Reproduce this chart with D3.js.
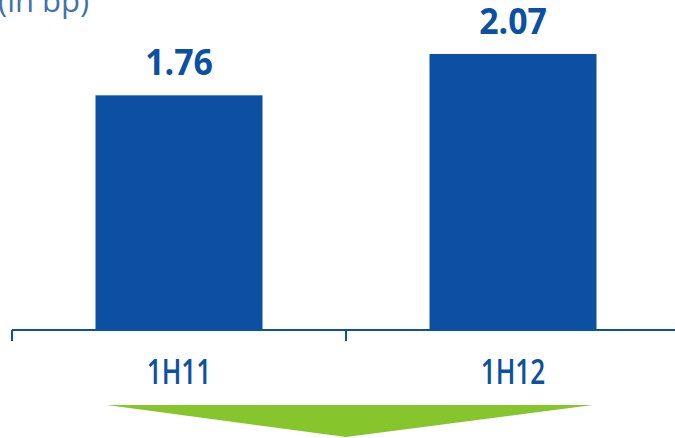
<!DOCTYPE html>
<html><head><meta charset="utf-8">
<script src="https://cdn.jsdelivr.net/npm/d3@7"></script>
<style>html,body{margin:0;padding:0;background:#fff;overflow:hidden}</style>
</head><body>
<svg id="c" width="675" height="438"></svg>
<script>
const categories = ["1H11", "1H12"];
const values = [1.76, 2.07];
const valueLabels = ["1.76", "2.07"];
const unitLabel = "(in bp)";

const svg = d3.select("#c");
const W = 675, H = 438;
const blue = "#0b50a2";
const x = d3.scaleBand().domain(categories).range([12, 680]).paddingInner(0.5).paddingOuter(0.25);
const y = d3.scaleLinear().domain([0, 2.07]).range([330, 54]);

svg.append("text").attr("x", -2).attr("y", 12).attr("fill", "#3f72ad")
  .attr("font-family", "Open Sans").attr("font-size", 31).text(unitLabel);

svg.selectAll("rect.bar").data(values).join("rect").attr("class", "bar")
  .attr("x", (d, i) => x(categories[i])).attr("width", x.bandwidth())
  .attr("y", d => y(d)).attr("height", d => y(0) - y(d)).attr("fill", blue);

svg.selectAll("text.val").data(values).join("text").attr("class", "val")
  .attr("x", (d, i) => x(categories[i]) + x.bandwidth() / 2)
  .attr("y", d => y(d) - 20).attr("text-anchor", "middle")
  .attr("font-family", "Open Sans").attr("font-weight", 700).attr("font-size", 36)
  .attr("fill", blue).text((d, i) => valueLabels[i])
  .each(function () { this.setAttribute("textLength", this.getComputedTextLength() * 0.94); this.setAttribute("lengthAdjust", "spacingAndGlyphs"); });

// axis
const step = x.step();
const ax = svg.append("g");
ax.append("line").attr("x1", 12).attr("x2", W).attr("y1", y(0)).attr("y2", y(0))
  .attr("stroke", blue).attr("stroke-width", 2);
categories.forEach(c => {
  const tx = x(c) - step * x.paddingInner() / 2;
  ax.append("line").attr("x1", tx).attr("x2", tx).attr("y1", y(0)).attr("y2", y(0) + 11)
    .attr("stroke", blue).attr("stroke-width", 2);
});
svg.selectAll("text.cat").data(categories).join("text").attr("class", "cat")
  .attr("x", d => x(d) + x.bandwidth() / 2).attr("y", 384).attr("text-anchor", "middle")
  .attr("font-family", "Open Sans").attr("font-weight", 600).attr("font-size", 34).attr("fill", blue).text(d => d)
  .each(function () { this.setAttribute("textLength", this.getComputedTextLength() * 0.77); this.setAttribute("lengthAdjust", "spacingAndGlyphs"); });

// green arrow
const cx = (x(categories[0]) + x(categories[1]) + x.bandwidth()) / 2;
svg.append("path").attr("d", `M107,405 L593,405 L${cx},437 Z`).attr("fill", "#86c52b");
</script>
</body></html>
